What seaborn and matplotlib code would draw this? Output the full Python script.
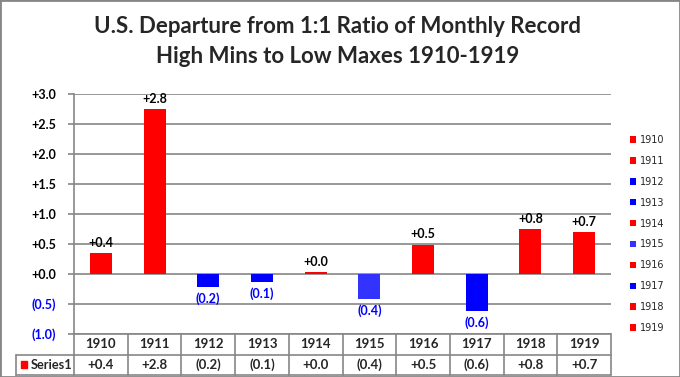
"""
U.S. departure from 1:1 ratio of monthly record high mins to low maxes, 1910-1919.
Excel-style column chart with a data table underneath.
"""

import matplotlib.pyplot as plt
import numpy as np
import pandas as pd
import seaborn as sns
from matplotlib.patches import Patch, Rectangle
from matplotlib.transforms import blended_transform_factory

years = ["1910", "1911", "1912", "1913", "1914", "1915", "1916", "1917", "1918", "1919"]
values = [0.35, 2.75, -0.21, -0.13, 0.03, -0.41, 0.49, -0.61, 0.75, 0.70]
shown = [0.4, 2.8, -0.2, -0.1, 0.0, -0.4, 0.5, -0.6, 0.8, 0.7]
bar_colors = ["#FF0000", "#FF0000", "#0000FF", "#0000FF", "#FF0000",
              "#3333FF", "#FF0000", "#0000FF", "#FF0000", "#FF0000"]
series_name = "Series1"
title = "U.S. Departure from 1:1 Ratio of Monthly Record\nHigh Mins to Low Maxes 1910-1919"

GRID = "#868686"
NEG = "#0000FF"
FONT = ["Lato", "DejaVu Sans"]


def fmt(v: float) -> str:
    return f"+{v:.1f}" if v >= 0 else f"({abs(v):.1f})"


sns.set_theme(style="white")
plt.rcParams["font.family"] = FONT

df = pd.DataFrame({"year": years, "value": values})

fig = plt.figure(figsize=(6.8, 3.77), dpi=100)
fig.patches.append(Rectangle((0, 0), 1, 1, transform=fig.transFigure, fill=False,
                             edgecolor=GRID, linewidth=2))
ax = fig.add_axes([74 / 680, 1 - 334 / 377, 537 / 680, 240 / 377])

sns.barplot(data=df, x="year", y="value", hue="year", palette=bar_colors,
            width=0.41, dodge=False, legend=False, saturation=1, linewidth=0,
            ax=ax)

ax.set_xlim(-0.5, len(years) - 0.5)
ax.set_ylim(-1.0, 3.0)
ax.set_yticks(np.arange(-1.0, 3.01, 0.5))
ax.yaxis.grid(True, color=GRID, linewidth=1.2)
ax.set_axisbelow(True)
for side in ["top", "right", "bottom"]:
    ax.spines[side].set_visible(False)
ax.spines["left"].set_color(GRID)
ax.spines["left"].set_linewidth(1.2)
ax.set_xlabel("")
ax.set_ylabel("")
ax.set_xticks([])
ax.tick_params(axis="y", which="both", left=True, length=4, width=1.2,
               color=GRID, pad=9)
ax.set_yticklabels([fmt(t) for t in ax.get_yticks()], fontsize=9, fontweight="bold")
for lbl, t in zip(ax.get_yticklabels(), ax.get_yticks()):
    lbl.set_color(NEG if t < 0 else "black")

# data labels
for i, (v, s) in enumerate(zip(values, shown)):
    if v >= 0:
        ax.annotate(fmt(s), (i, v), xytext=(0, 3), textcoords="offset points",
                    ha="center", va="bottom", fontsize=9, fontweight="bold",
                    color="black")
    else:
        ax.annotate(fmt(s), (i, v), xytext=(0, -4), textcoords="offset points",
                    ha="center", va="top", fontsize=9, fontweight="bold",
                    color=NEG)

# data table below the plot
tr = blended_transform_factory(ax.transData, ax.transAxes)
tr_ax = ax.transAxes
row_h = 20.5 / 240
label_left = (16 - 74) / 537
x_edges = np.arange(len(years) + 1) - 0.5
line_kw = dict(color=GRID, linewidth=1.2, clip_on=False)
ax.plot([x_edges[0], x_edges[-1]], [0, 0], transform=tr, **line_kw)
for xe in x_edges:
    ax.plot([xe, xe], [0, -2 * row_h], transform=tr, **line_kw)
ax.plot([label_left, 0], [-row_h, -row_h], transform=tr_ax, **line_kw)
ax.plot([x_edges[0], x_edges[-1]], [-row_h, -row_h], transform=tr, **line_kw)
ax.plot([label_left, label_left], [-row_h, -2 * row_h], transform=tr_ax, **line_kw)
ax.plot([label_left, 0], [-2 * row_h, -2 * row_h], transform=tr_ax, **line_kw)
ax.plot([x_edges[0], x_edges[-1]], [-2 * row_h, -2 * row_h], transform=tr, **line_kw)

for i, (y, s) in enumerate(zip(years, shown)):
    ax.text(i, -0.5 * row_h, y, transform=tr, ha="center", va="center",
            fontsize=9.5, fontweight="bold")
    ax.text(i, -1.5 * row_h, fmt(s), transform=tr, ha="center", va="center",
            fontsize=9.5, fontweight="bold")
ax.add_patch(Rectangle((label_left + 0.009, -1.5 * row_h - 0.013), 0.012, 0.027,
                       transform=tr_ax, color="#FF0000", clip_on=False))
ax.text(label_left + 0.027, -1.5 * row_h, series_name, transform=tr_ax,
        ha="left", va="center", fontsize=9.2, fontweight="bold")

# legend: one entry per year
handles = [Patch(facecolor=c, edgecolor="none", label=y)
           for y, c in zip(years, bar_colors)]
fig.legend(handles=handles, loc="center left", bbox_to_anchor=(630 / 680, 1 - 234 / 377),
           frameon=False, labelspacing=1.12, handlelength=0.65,
           handleheight=0.65, handletextpad=0.4, borderpad=0, borderaxespad=0,
           prop={"family": ["DejaVu Sans"], "size": 7})

fig.suptitle(title, x=338 / 680, y=1 - 16 / 377, va="top", fontsize=16,
             fontweight="bold", linespacing=1.55)

fig.savefig("out.png", dpi=100)
